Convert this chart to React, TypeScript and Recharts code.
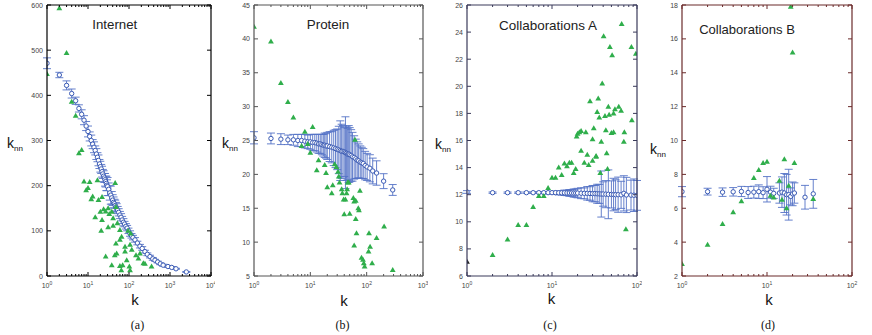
import React from 'react';
import { ScatterChart, Scatter, XAxis, YAxis, ErrorBar } from 'recharts';

const BLUE = '#3b5bb5';
const BAR = '#5573c6';
const GREEN = '#2fae4b';
const TICKTXT = '#444';

type Pt3 = [number, number, number];
type Pt2 = [number, number];

// ---------- (a) Internet ----------
const internetAvg: Pt3[] = [
  [1, 471, 12], [2, 445, 6], [3, 422, 10], [4, 404, 10], [5, 388, 8], [6, 371, 8], [7, 358, 10],
  [8, 345, 10], [9, 332, 10], [10, 320, 12], [11, 309, 10], [12, 300, 12], [13, 292, 10], [14, 285, 12],
  [15, 278, 10], [16, 270, 12], [17, 263, 10], [18, 256, 12], [19, 248, 10], [20, 242, 12], [21, 237, 10],
  [22, 231, 12], [23, 226, 10], [24, 221, 12], [25, 217, 10], [26, 213, 14], [27, 209, 12], [28, 205, 16],
  [29, 201, 12], [30, 198, 20], [32, 192, 14], [34, 184, 16], [36, 179, 20], [38, 173, 14], [40, 168, 12],
  [42, 163, 12], [44, 160, 10], [46, 156, 12], [48, 153, 10], [50, 150, 10], [53, 146, 8], [56, 141, 8],
  [60, 135, 8], [64, 130, 8], [68, 124, 8], [73, 119, 8], [78, 115, 6], [84, 110, 6], [90, 106, 6],
  [97, 100, 6], [106, 94, 6], [115, 89, 5], [125, 85, 5], [140, 80, 5], [160, 73, 4], [185, 66, 4],
  [210, 61, 4], [245, 54, 3], [280, 48, 3], [325, 43, 3], [380, 38, 3], [430, 35, 2], [500, 31, 2],
  [580, 27, 2], [680, 24, 2], [890, 21, 2], [1100, 19, 2], [1400, 16, 1], [2500, 9, 1],
];
const internetRnd: Pt2[] = [
  [1, 447], [2, 593], [3, 494], [4, 386], [5, 355], [6, 272], [7, 279], [8, 209], [9, 190], [10, 195],
  [11, 208], [12, 170], [13, 176], [15, 130], [17, 212], [18, 168], [20, 142], [21, 100], [22, 175],
  [22, 124], [24, 148], [27, 143], [27, 43], [31, 150], [31, 108], [33, 137], [38, 142], [38, 24],
  [41, 128], [41, 111], [45, 46], [46, 206], [48, 153], [48, 72], [50, 50], [52, 117], [65, 13],
  [60, 102], [60, 80], [60, 22], [66, 87], [70, 24], [80, 65], [80, 54], [88, 35], [95, 100], [102, 21],
  [106, 69], [106, 13], [110, 94], [117, 58], [148, 46], [170, 39], [185, 50], [224, 28], [245, 27], [355, 21],
];
const internetYTicks = [0, 100, 200, 300, 400, 500, 600];
const internetXMajor = [1, 10, 100, 1000, 10000];

// ---------- (b) Protein ----------
const proteinAvg: Pt3[] = [
  [1, 25.4, 0.9], [2, 25.3, 0.8], [3, 25.2, 0.8], [4, 25.1, 0.7], [5, 25.1, 0.8], [6, 25.0, 0.9],
  [7, 25.0, 0.9], [8, 24.9, 1.0], [9, 24.8, 1.0], [10, 24.8, 1.1], [11, 24.7, 1.2], [12, 24.7, 1.2],
  [13, 24.6, 1.3], [14, 24.5, 1.4], [15, 24.5, 1.4], [16, 24.4, 1.5], [17, 24.3, 1.6], [18, 24.3, 1.8],
  [19, 24.2, 1.8], [20, 24.2, 2.0], [22, 24.1, 2.2], [24, 24.0, 2.3], [26, 23.9, 2.6], [28, 23.8, 2.8],
  [30, 23.7, 3.0], [32, 23.6, 3.5], [34, 23.5, 4.4], [36, 23.4, 4.0], [38, 23.4, 3.8], [40, 23.3, 3.6],
  [42, 23.2, 5.3], [44, 23.1, 4.0], [46, 23.0, 3.8], [48, 23.0, 4.2], [50, 22.9, 4.0], [53, 22.8, 3.8],
  [56, 22.6, 3.6], [60, 22.5, 3.2], [64, 22.3, 2.9], [68, 22.1, 2.7], [72, 22.0, 2.5], [77, 21.8, 2.4],
  [82, 21.7, 2.3], [87, 21.6, 2.2], [94, 21.3, 2.1], [102, 21.1, 2.0], [114, 20.9, 2.0], [128, 20.5, 1.9],
  [150, 20.2, 1.8], [200, 19.0, 1.1], [290, 17.7, 0.8],
];
const proteinRnd: Pt2[] = [
  [1, 41.8], [2, 39.6], [3, 33.5], [4, 30.7], [5, 28.4], [7, 24.2], [8, 26.3], [9, 24.5], [10, 23.2],
  [11, 27.0], [13, 20.6], [14, 22.1], [18, 21.4], [19, 20.2], [20, 18.1], [24, 17.2], [25, 18.4],
  [27, 21.5], [29, 21.1], [31, 20.4], [32, 19.7], [33, 18.8], [36, 17.8], [37, 17.2], [39, 16.3],
  [40, 14.1], [42, 16.3], [44, 17.2], [45, 17.8], [46, 18.8], [48, 18.8], [50, 14.2], [58, 16.5],
  [60, 16.0], [62, 25.1], [60, 9.5], [64, 16.1], [64, 13.4], [66, 11.3], [71, 15.0], [73, 14.7],
  [76, 17.6], [81, 7.7], [86, 7.4], [89, 6.9], [92, 6.4], [108, 8.6], [110, 11.3], [115, 9.3],
  [125, 6.9], [150, 10.6], [204, 12.3], [290, 5.9],
];
const proteinYTicks = [5, 10, 15, 20, 25, 30, 35, 40, 45];
const proteinXMajor = [1, 10, 100, 1000];

// ---------- (c) Collaborations A ----------
const collabAAvg: Pt3[] = [
  [1, 12.2, 0.1], [2, 12.15, 0.05], [3, 12.15, 0.05], [4, 12.15, 0.05], [5, 12.15, 0.05], [6, 12.15, 0.05],
  [7, 12.15, 0.06], [8, 12.15, 0.07], [9, 12.15, 0.08], [10, 12.15, 0.1], [11, 12.15, 0.1], [12, 12.14, 0.15],
  [13, 12.14, 0.15], [14, 12.14, 0.2], [15, 12.13, 0.2], [16, 12.13, 0.25], [17, 12.13, 0.25], [18, 12.12, 0.3],
  [19, 12.12, 0.3], [20, 12.12, 0.35], [22, 12.11, 0.4], [24, 12.1, 0.4], [26, 12.1, 0.5], [28, 12.09, 0.5],
  [30, 12.08, 0.6], [32, 12.08, 0.6], [34, 12.07, 0.7], [36, 12.06, 0.7], [38, 12.05, 1.7], [40, 12.05, 0.9],
  [43, 12.04, 1.0], [46, 12.03, 1.8], [50, 12.02, 1.0], [53, 12.01, 1.2], [56, 12.0, 1.1], [60, 12.0, 1.3],
  [65, 11.99, 1.0], [70, 12.1, 1.3], [75, 11.98, 1.3], [85, 11.97, 1.1], [92, 11.96, 1.2], [100, 11.95, 1.1],
];
const collabARnd: Pt2[] = [
  [2, 7.55], [3, 8.7], [4, 9.76], [5, 9.76], [6, 11.1], [7, 11.9], [8, 11.9], [9, 12.5], [10, 13.25],
  [11, 13.25], [12, 14.0], [13, 13.45], [14, 14.3], [15, 14.1], [16, 14.35], [17, 14.35], [18, 13.6],
  [19, 13.9], [19.5, 16.3], [20, 16.5], [21, 16.6], [22, 16.7], [22, 15.25], [24, 14.35], [25, 16.6],
  [26, 14.95], [27, 14.2], [28, 18.9], [30, 14.5], [30, 16.1], [31, 16.9], [33, 14.8], [33, 14.85],
  [35, 19.1], [34, 18.1], [36, 17.7], [38, 15.9], [37, 13.6], [39, 20.2], [40.5, 23.7], [42, 17.8],
  [43, 16.75], [44, 15.05], [45, 13.9], [46, 18.5], [47, 17.9], [48, 22.9], [50, 16.55], [51, 22.3],
  [53, 16.6], [53, 18.0], [55, 18.3], [61, 18.5], [65, 18.2], [66, 24.6], [70, 15.9], [71, 16.6],
  [74, 9.45], [86, 22.9], [87, 17.5], [97, 22.4],
];
const collabAOther: Pt2[] = [[1, 7.06]];
const collabAYTicks = [6, 8, 10, 12, 14, 16, 18, 20, 22, 24, 26];
const collabXMajor = [1, 10, 100];

// ---------- (d) Collaborations B ----------
const collabBAvg: Pt3[] = [
  [1, 6.98, 0.3], [2, 6.98, 0.2], [3, 6.95, 0.25], [4, 6.97, 0.25], [5, 6.99, 0.3], [6, 6.93, 0.35],
  [7, 6.95, 0.35], [8, 6.98, 0.4], [9, 6.92, 0.35], [10, 7.12, 0.75], [11, 6.95, 0.35], [12, 6.88, 0.3],
  [14, 6.9, 0.6], [15, 6.95, 0.9], [16, 6.9, 1.15], [17, 6.8, 1.2], [18, 6.8, 1.5], [19, 6.7, 0.5],
  [20, 6.85, 0.7], [21, 6.9, 0.6], [28, 6.65, 0.7], [35, 6.85, 0.85],
];
const collabBRnd: Pt2[] = [
  [1, 2.71], [2, 3.85], [3, 5.07], [4, 5.76], [5, 6.41], [7, 7.78], [8, 8.26], [9, 8.67], [10, 8.75],
  [11, 6.74], [12, 6.63], [14, 7.63], [15, 6.5], [16, 8.9], [17, 6.0], [18, 7.33], [19, 17.9], [20, 15.2],
  [21, 8.67], [35, 6.55],
];
const collabBYTicks = [2, 4, 6, 8, 10, 12, 14, 16, 18];

// ---------- helpers ----------
const withMinors = (major: number[]) => {
  const out: number[] = [];
  for (let i = 0; i < major.length; i++) {
    out.push(major[i]);
    if (i < major.length - 1) for (let m = 2; m <= 9; m++) out.push(major[i] * m);
  }
  return out;
};
const toAvg = (a: Pt3[]) => a.map(([k, v, e]) => ({ k, v, e }));
const toRnd = (a: Pt2[]) => a.map(([k, v]) => ({ k, v }));

const H = 335;
const TOP = 5;
const XAXIS_H = 59;
const SANS = "'Liberation Sans', Arial, sans-serif";
const SERIF = "'Liberation Serif', 'Times New Roman', serif";

const OpenCircle = (p: any) => (
  <circle cx={p.cx} cy={p.cy} r={2.2} fill="#fff" stroke={BLUE} strokeWidth={1} />
);
const makeTri = (color: string) => (p: any) => (
  <polygon
    points={`${p.cx},${p.cy - 3} ${p.cx - 2.9},${p.cy + 2} ${p.cx + 2.9},${p.cy + 2}`}
    fill={color}
    stroke="none"
  />
);
const GreenTri = makeTri(GREEN);
const DarkTri = makeTri('#222');

const Panel = ({ left, width, yw, right, xDomain, xMajor, yDomain, yTicks, avg, rnd, other, axis }: any) => {
  const plotRight = width - right;
  const XTick = (props: any) => {
    const { x, y, payload } = props;
    const v = payload.value;
    const isMajor = xMajor.some((m: number) => Math.abs(m - v) / m < 1e-6);
    const isEdge = Math.abs(v - xDomain[0]) < 1e-9 || Math.abs(v - xDomain[1]) / xDomain[1] < 1e-9;
    const len = isMajor ? 4 : 2;
    const exp = Math.round(Math.log10(v));
    return (
      <g>
        {isEdge && <line x1={x} y1={TOP} x2={x} y2={y} stroke={axis} strokeWidth={1.2} />}
        <line x1={x} y1={y} x2={x} y2={y - len} stroke={axis} strokeWidth={1} />
        <line x1={x} y1={TOP} x2={x} y2={TOP + len} stroke={axis} strokeWidth={1} />
        {isMajor && (
          <text x={x} y={y + 12} textAnchor="middle" fontSize={7} fill={TICKTXT} fontFamily={SANS}>
            10<tspan dy={-3} fontSize={5}>{exp}</tspan>
          </text>
        )}
      </g>
    );
  };
  const YTick = (props: any) => {
    const { x, y, payload } = props;
    const v = payload.value;
    const isEdge = v === yDomain[0] || v === yDomain[1];
    return (
      <g>
        {isEdge && <line x1={x} y1={y} x2={plotRight} y2={y} stroke={axis} strokeWidth={1.2} />}
        <line x1={x} y1={y} x2={x + 4} y2={y} stroke={axis} strokeWidth={1} />
        <line x1={plotRight} y1={y} x2={plotRight - 4} y2={y} stroke={axis} strokeWidth={1} />
        <text x={x - 4} y={y + 2.5} textAnchor="end" fontSize={7} fill={TICKTXT} fontFamily={SANS}>
          {v}
        </text>
      </g>
    );
  };
  return (
    <div style={{ position: 'absolute', left, top: 0, width, height: H }}>
      <ScatterChart width={width} height={H} margin={{ top: TOP, right, bottom: 0, left: 0 }}>
        <XAxis type="number" dataKey="k" scale="log" domain={xDomain} allowDataOverflow ticks={withMinors(xMajor)} interval={0}
          tick={XTick} tickLine={false} tickSize={0} tickMargin={0} axisLine={false} height={XAXIS_H} />
        <YAxis type="number" dataKey="v" domain={yDomain} allowDataOverflow ticks={yTicks} interval={0}
          tick={YTick} tickLine={false} tickSize={0} tickMargin={0} axisLine={false} width={yw} />
        <Scatter data={toAvg(avg)} shape={OpenCircle} isAnimationActive={false}>
          <ErrorBar dataKey="e" direction="y" width={4} stroke={BAR} strokeWidth={0.9} isAnimationActive={false} />
        </Scatter>
        <Scatter data={toRnd(rnd)} shape={GreenTri} isAnimationActive={false} />
        {other ? <Scatter data={toRnd(other)} shape={DarkTri} isAnimationActive={false} /> : null}
      </ScatterChart>
    </div>
  );
};

const titles = [
  { text: 'Internet', x: 114.8, y: 28.5, w: 45 },
  { text: 'Protein', x: 328, y: 29, w: 42.6 },
  { text: 'Collaborations A', x: 548, y: 29.5, w: 98 },
  { text: 'Collaborations B', x: 747, y: 34, w: 95.7 },
];
const knnLabels = [
  { x: 7, y: 148 },
  { x: 222, y: 148 },
  { x: 435, y: 148.5 },
  { x: 650, y: 154 },
];
const kLabels = [
  { x: 135, y: 305 },
  { x: 344, y: 306 },
  { x: 551.5, y: 304 },
  { x: 769, y: 305 },
];
const captions = [
  { t: '(a)', x: 137.5 },
  { t: '(b)', x: 342.5 },
  { t: '(c)', x: 550 },
  { t: '(d)', x: 768 },
];

export default function App() {
  return (
    <div style={{ position: 'absolute', left: 0, top: 0, width: 872, height: H, background: '#fff', overflow: 'hidden' }}>
      <svg width={872} height={H} style={{ position: 'absolute', left: 0, top: 0 }}>
        {titles.map((t) => (
          <text key={t.text} x={t.x} y={t.y} textAnchor="middle" fontSize={13} fill="#222" fontFamily={SANS}
            textLength={t.w} lengthAdjust="spacingAndGlyphs">
            {t.text}
          </text>
        ))}
        {knnLabels.map((p, i) => (
          <text key={i} x={p.x} y={p.y} fontSize={14} fill="#111" fontFamily={SANS}>
            k<tspan fontSize={8} dy={3}>nn</tspan>
          </text>
        ))}
        {kLabels.map((p, i) => (
          <text key={i} x={p.x} y={p.y} textAnchor="middle" fontSize={15} fill="#111" fontFamily={SANS}>k</text>
        ))}
        {captions.map((c) => (
          <text key={c.t} x={c.x} y={329} textAnchor="middle" fontSize={12} fill="#111" fontFamily={SERIF}>{c.t}</text>
        ))}
      </svg>
      <Panel left={0} width={215} yw={47} right={4} xDomain={[1, 10000]} xMajor={internetXMajor}
        yDomain={[0, 600]} yTicks={internetYTicks} avg={internetAvg} rnd={internetRnd} axis="#000000" />
      <Panel left={215} width={213} yw={39} right={5} xDomain={[1, 1000]} xMajor={proteinXMajor}
        yDomain={[5, 45]} yTicks={proteinYTicks} avg={proteinAvg} rnd={proteinRnd} axis="#555555" />
      <Panel left={428} width={214} yw={39} right={5} xDomain={[1, 100]} xMajor={collabXMajor}
        yDomain={[6, 26]} yTicks={collabAYTicks} avg={collabAAvg} rnd={collabARnd} other={collabAOther} axis="#3a3a5a" />
      <Panel left={642} width={230} yw={40} right={20} xDomain={[1, 100]} xMajor={collabXMajor}
        yDomain={[2, 18]} yTicks={collabBYTicks} avg={collabBAvg} rnd={collabBRnd} axis="#6a2a2a" />
    </div>
  );
}
